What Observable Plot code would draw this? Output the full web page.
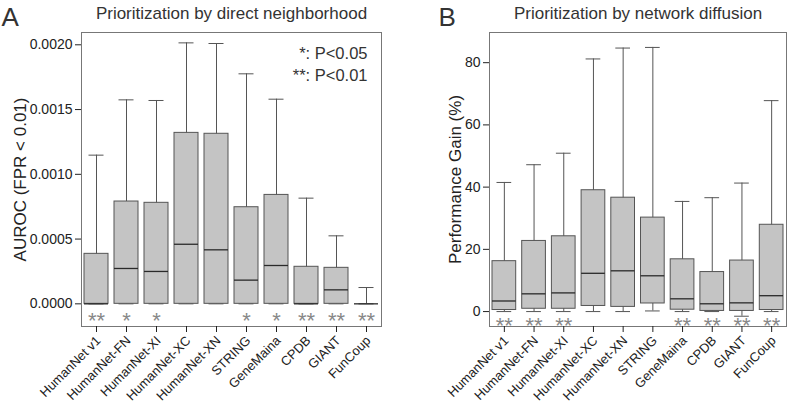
<!DOCTYPE html>
<html>
<head>
<meta charset="utf-8">
<script src="https://cdn.jsdelivr.net/npm/d3@7"></script>
<script src="https://cdn.jsdelivr.net/npm/@observablehq/plot@0.6"></script>
<style>
  html, body { margin: 0; padding: 0; background: #fff; }
  #wrap { display: flex; width: 787px; height: 411px; overflow: hidden; }
  svg { font-family: "Liberation Sans", Arial, sans-serif; overflow: visible; }
  [aria-label="y-axis label"] text { font-size: 17px; fill: #222; }
</style>
</head>
<body>
<div id="wrap"></div>
<script>
// ---- data ----
const networks = ["HumanNet v1", "HumanNet-FN", "HumanNet-XI", "HumanNet-XC", "HumanNet-XN",
                  "STRING", "GeneMaina", "CPDB", "GIANT", "FunCoup"];

// Panel A: AUROC (FPR < 0.01), prioritization by direct neighborhood
const aLow  = [0, 0, 0, 0, 0, 0, 0, 0, 0, 0];
const aQ1   = [0, 0, 0, 0, 0, 0, 0, 0, 0, 0];
const aMed  = [0, 0.000273, 0.00025, 0.00046, 0.000417, 0.000183, 0.000296, 0, 0.000108, 0];
const aQ3   = [0.000386, 0.00079, 0.00078, 0.00132, 0.001313, 0.000746, 0.000841, 0.000286, 0.000278, 0];
const aHigh = [0.001148, 0.001575, 0.00157, 0.002015, 0.00201, 0.001776, 0.00158, 0.000816, 0.000525, 0.000126];
const aStars = ["**", "*", "*", "", "", "*", "*", "**", "**", "**"];
const aTicks = [0, 0.0005, 0.001, 0.0015, 0.002];

// Panel B: Performance gain (%), prioritization by network diffusion
const bLow  = [0, 0, 0, 0, 0, 0.2, 0, 0, -1.5, 0];
const bQ1   = [0.5, 0.9, 0.9, 1.8, 1.5, 2.6, 0.6, 0.2, 0.2, 0.5];
const bMed  = [3.4, 5.7, 6.0, 12.3, 13.1, 11.5, 4.1, 2.5, 2.8, 5.1];
const bQ3   = [16.2, 22.7, 24.2, 39.0, 36.6, 30.2, 16.8, 12.7, 16.4, 27.9];
const bHigh = [41.5, 47.2, 50.9, 81.2, 84.7, 84.9, 35.4, 36.6, 41.3, 67.8];
const bStars = ["**", "**", "**", "", "", "", "**", "**", "**", "**"];
const bTicks = [0, 20, 40, 60, 80];

const legendLines = ["*: P<0.05", "**: P<0.01"];

function rows(low, q1, med, q3, high, stars) {
  return networks.map((net, i) => ({net, low: low[i], q1: q1[i], med: med[i], q3: q3[i], high: high[i], star: stars[i]}));
}

function panel({data, width, marginLeft, marginRight, yDomain, ticks, tickFormat, starY, yLabel, labelOffset, title, letter, letterDx, extra = []}) {
  return Plot.plot({
    width, height: 411,
    marginLeft, marginRight, marginTop: 32, marginBottom: 85,
    style: {fontFamily: "'Liberation Sans', Arial, sans-serif", fontSize: "13px", color: "#222", background: "white"},
    x: {type: "band", domain: networks, padding: 0, round: false},
    y: {domain: yDomain},
    marks: [
      Plot.frame({stroke: "#777"}),
      Plot.ruleX(data, {x: "net", y1: "low", y2: "high", stroke: "#555"}),
      Plot.tickY(data, {x: "net", y: "high", stroke: "#555", insetLeft: 7.5, insetRight: 7.5}),
      Plot.tickY(data, {x: "net", y: "low", stroke: "#555", insetLeft: 7.5, insetRight: 7.5}),
      Plot.barY(data, {x: "net", y1: "q1", y2: "q3", fill: "#c4c4c4", stroke: "#555", strokeWidth: 1, insetLeft: 3, insetRight: 3}),
      Plot.tickY(data, {x: "net", y: "med", stroke: "#2a2a2a", strokeWidth: 1.3, insetLeft: 3, insetRight: 3}),
      Plot.text(data, {x: "net", y: () => starY, text: "star", fill: "#888", fontSize: 22, dy: 5}),
      Plot.axisY({ticks, tickFormat, tickSize: 6, tickPadding: 3, fontSize: 14, label: yLabel,
                  labelAnchor: "center", labelArrow: "none", labelOffset}),
      Plot.axisX({tickSize: 6, tickFormat: () => "", label: null}),
      Plot.axisX({tickSize: 0, tickPadding: 8, tickRotate: -45, dx: 2, dy: 4, fontSize: 13, label: null}),
      Plot.text([title], {frameAnchor: "top", lineAnchor: "middle", dy: -19, fontSize: 17, fill: "#333"}),
      Plot.text([letter], {frameAnchor: "top-left", lineAnchor: "middle", textAnchor: "start", dx: letterDx, dy: -15, fontSize: 26, fill: "#333"}),
      ...extra
    ]
  });
}

const plotA = panel({
  data: rows(aLow, aQ1, aMed, aQ3, aHigh, aStars),
  width: 393, marginLeft: 81, marginRight: 12,
  yDomain: [-0.000175, 0.002095], ticks: aTicks, tickFormat: d3.format(".4f"),
  starY: -0.00009, yLabel: "AUROC (FPR < 0.01)", labelOffset: 68,
  title: "Prioritization by direct neighborhood", letter: "A", letterDx: -80,
  extra: legendLines.map((t, i) => Plot.text([t], {frameAnchor: "top-right", lineAnchor: "middle", textAnchor: "end", dx: -14, dy: 21 + 22 * i, fontSize: 16.5, fill: "#333"}))
});

const plotB = panel({
  data: rows(bLow, bQ1, bMed, bQ3, bHigh, bStars),
  width: 394, marginLeft: 96, marginRight: 1,
  yDomain: [-4.8, 89.7], ticks: bTicks, tickFormat: d3.format("d"),
  starY: -2.9, yLabel: "Performance Gain (%)", labelOffset: 41,
  title: "Prioritization by network diffusion", letter: "B", letterDx: -51
});

document.getElementById("wrap").append(plotA, plotB);
</script>
</body>
</html>
